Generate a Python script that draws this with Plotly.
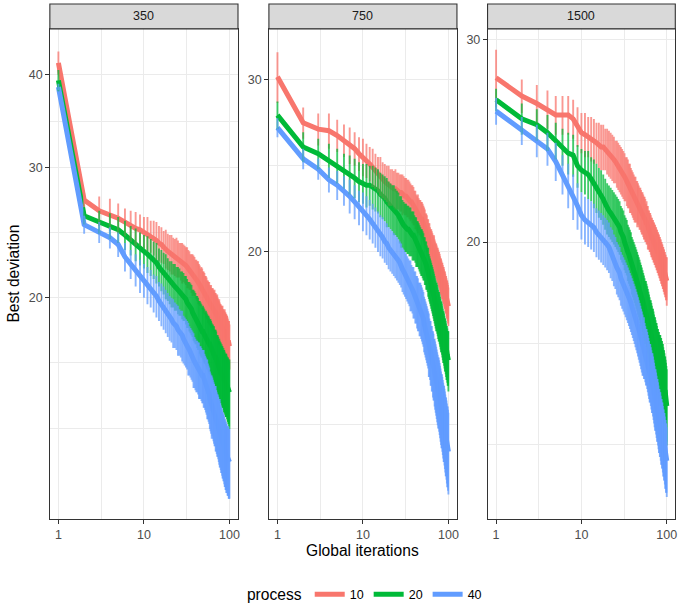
import plotly.graph_objects as go

iterations = list(range(1, 101))
facets = ["350", "750", "1500"]
processes = ["10", "20", "40"]
colors = {"10": "#F8766D", "20": "#00BA38", "40": "#619CFF"}
err_colors = {"10": "rgba(248,118,109,0.75)", "20": "rgba(0,186,56,0.75)", "40": "rgba(97,156,255,0.75)"}

# ---- facet 350 ----
dev_350_p10 = [41.5, 27.1, 26.2, 25.9, 25.6, 25.3, 25.0, 24.8, 24.7, 24.5,
               24.4, 24.2, 24.1, 23.9, 23.7, 23.6, 23.4, 23.3, 23.1, 23.0,
               22.9, 22.8, 22.7, 22.7, 22.6, 22.5, 22.4, 22.3, 22.3, 22.2,
               22.1, 22.0, 21.9, 21.8, 21.7, 21.6, 21.5, 21.5, 21.4, 21.3,
               21.2, 21.1, 21.0, 20.9, 20.8, 20.7, 20.7, 20.6, 20.5, 20.4,
               20.3, 20.2, 20.1, 20.0, 19.9, 19.8, 19.8, 19.7, 19.6, 19.5,
               19.5, 19.4, 19.4, 19.3, 19.3, 19.2, 19.2, 19.1, 19.1, 19.0,
               18.9, 18.9, 18.8, 18.7, 18.6, 18.6, 18.5, 18.4, 18.4, 18.3,
               18.3, 18.2, 18.2, 18.1, 18.1, 18.0, 18.0, 18.0, 17.9, 17.9,
               17.8, 17.8, 17.7, 17.6, 17.6, 17.5, 17.4, 17.4, 17.3, 17.2]
dev_350_p20 = [39.3, 25.8, 25.3, 25.0, 24.7, 24.3, 23.9, 23.6, 23.3, 23.1,
               22.9, 22.7, 22.5, 22.3, 22.0, 21.8, 21.6, 21.4, 21.2, 21.0,
               20.9, 20.8, 20.7, 20.6, 20.5, 20.4, 20.3, 20.2, 20.1, 20.0,
               19.9, 19.7, 19.6, 19.5, 19.4, 19.3, 19.1, 19.0, 18.9, 18.8,
               18.7, 18.6, 18.5, 18.4, 18.3, 18.2, 18.1, 18.0, 18.0, 17.9,
               17.8, 17.7, 17.7, 17.6, 17.5, 17.5, 17.4, 17.3, 17.3, 17.2,
               17.1, 17.0, 17.0, 16.9, 16.8, 16.8, 16.7, 16.6, 16.6, 16.5,
               16.4, 16.3, 16.3, 16.2, 16.1, 16.1, 16.0, 15.9, 15.9, 15.8,
               15.8, 15.7, 15.7, 15.6, 15.6, 15.5, 15.5, 15.4, 15.4, 15.3,
               15.3, 15.3, 15.2, 15.2, 15.1, 15.1, 15.0, 15.0, 14.9, 14.9]
dev_350_p40 = [38.5, 25.1, 24.5, 24.1, 23.6, 22.7, 22.2, 21.8, 21.4, 21.1,
               20.8, 20.6, 20.3, 20.1, 19.8, 19.6, 19.4, 19.2, 19.0, 18.8,
               18.7, 18.5, 18.4, 18.3, 18.1, 18.0, 17.9, 17.8, 17.6, 17.5,
               17.4, 17.3, 17.1, 17.0, 16.9, 16.8, 16.7, 16.5, 16.4, 16.3,
               16.2, 16.2, 16.1, 16.0, 15.9, 15.9, 15.8, 15.7, 15.7, 15.6,
               15.5, 15.4, 15.3, 15.2, 15.1, 15.0, 14.9, 14.8, 14.6, 14.5,
               14.4, 14.3, 14.3, 14.2, 14.1, 14.0, 13.9, 13.9, 13.8, 13.7,
               13.6, 13.5, 13.5, 13.4, 13.3, 13.2, 13.2, 13.1, 13.0, 12.9,
               12.9, 12.8, 12.7, 12.7, 12.6, 12.6, 12.5, 12.4, 12.4, 12.3,
               12.3, 12.2, 12.2, 12.2, 12.1, 12.1, 12.1, 12.0, 12.0, 12.0]
err_350_p10 = [1.5, 0.6, 1.2, 1.3, 1.2, 1.1, 1.2, 1.3, 1.2, 1.2,
               1.3, 1.2, 1.3, 1.4, 1.3, 1.3, 1.2, 1.4, 1.3, 1.3,
               1.4, 1.3, 1.3, 1.4, 1.3, 1.2, 1.3, 1.4, 1.3, 1.3,
               1.3, 1.4, 1.3, 1.3, 1.2, 1.3, 1.4, 1.3, 1.3, 1.2,
               1.3, 1.3, 1.4, 1.3, 1.3, 1.2, 1.3, 1.3, 1.2, 1.3,
               1.3, 1.2, 1.3, 1.3, 1.2, 1.3, 1.2, 1.3, 1.2, 1.2,
               1.3, 1.2, 1.2, 1.3, 1.2, 1.2, 1.3, 1.2, 1.2, 1.2,
               1.2, 1.3, 1.2, 1.2, 1.2, 1.3, 1.2, 1.2, 1.2, 1.2,
               1.2, 1.2, 1.3, 1.2, 1.2, 1.2, 1.2, 1.3, 1.2, 1.2,
               1.2, 1.2, 1.2, 1.3, 1.2, 1.2, 1.2, 1.2, 1.3, 1.2]
err_350_p20 = [1.3, 0.7, 0.9, 1.0, 1.0, 1.1, 1.1, 1.2, 1.2, 1.2,
               1.3, 1.3, 1.3, 1.4, 1.3, 1.4, 1.4, 1.5, 1.4, 1.4,
               1.5, 1.4, 1.5, 1.4, 1.5, 1.5, 1.4, 1.5, 1.5, 1.4,
               1.5, 1.5, 1.4, 1.5, 1.5, 1.5, 1.4, 1.5, 1.5, 1.5,
               1.4, 1.5, 1.5, 1.4, 1.5, 1.5, 1.5, 1.4, 1.5, 1.5,
               1.5, 1.4, 1.5, 1.5, 1.5, 1.4, 1.5, 1.5, 1.4, 1.5,
               1.5, 1.5, 1.4, 1.5, 1.5, 1.5, 1.4, 1.5, 1.5, 1.5,
               1.4, 1.5, 1.5, 1.5, 1.4, 1.5, 1.5, 1.5, 1.5, 1.4,
               1.5, 1.5, 1.5, 1.4, 1.5, 1.5, 1.5, 1.5, 1.4, 1.5,
               1.5, 1.5, 1.5, 1.4, 1.5, 1.5, 1.5, 1.5, 1.5, 1.6]
err_350_p40 = [0.4, 0.7, 0.8, 0.8, 0.9, 1.0, 1.0, 1.1, 1.1, 1.1,
               1.2, 1.2, 1.2, 1.3, 1.2, 1.3, 1.3, 1.3, 1.3, 1.3,
               1.3, 1.4, 1.3, 1.3, 1.4, 1.3, 1.3, 1.4, 1.3, 1.3,
               1.3, 1.3, 1.4, 1.3, 1.3, 1.3, 1.3, 1.4, 1.3, 1.3,
               1.3, 1.3, 1.3, 1.4, 1.3, 1.3, 1.3, 1.3, 1.3, 1.4,
               1.3, 1.3, 1.3, 1.3, 1.4, 1.3, 1.3, 1.3, 1.3, 1.3,
               1.3, 1.4, 1.3, 1.3, 1.3, 1.3, 1.3, 1.3, 1.4, 1.3,
               1.3, 1.3, 1.3, 1.3, 1.3, 1.3, 1.4, 1.3, 1.3, 1.3,
               1.3, 1.3, 1.3, 1.3, 1.3, 1.3, 1.3, 1.3, 1.3, 1.3,
               1.3, 1.3, 1.3, 1.2, 1.3, 1.3, 1.3, 1.3, 1.3, 1.3]

# ---- facet 750 ----
dev_750_p10 = [30.2, 27.1, 26.7, 26.6, 26.3, 26.0, 25.7, 25.5, 25.2, 25.0,
               24.8, 24.6, 24.4, 24.2, 24.0, 23.9, 23.7, 23.6, 23.5, 23.4,
               23.3, 23.3, 23.2, 23.2, 23.1, 23.1, 23.0, 23.0, 22.9, 22.9,
               22.8, 22.8, 22.7, 22.7, 22.6, 22.5, 22.5, 22.4, 22.3, 22.2,
               22.1, 22.0, 21.9, 21.9, 21.8, 21.7, 21.7, 21.6, 21.6, 21.5,
               21.4, 21.3, 21.2, 21.1, 21.0, 20.9, 20.8, 20.7, 20.6, 20.5,
               20.4, 20.3, 20.2, 20.2, 20.1, 20.0, 19.9, 19.9, 19.8, 19.7,
               19.6, 19.6, 19.5, 19.4, 19.4, 19.3, 19.2, 19.2, 19.1, 19.0,
               18.9, 18.9, 18.8, 18.7, 18.7, 18.6, 18.5, 18.5, 18.4, 18.3,
               18.3, 18.2, 18.1, 18.1, 18.0, 17.9, 17.9, 17.8, 17.7, 17.6]
dev_750_p20 = [27.6, 25.6, 25.2, 24.8, 24.5, 24.2, 24.0, 23.8, 23.6, 23.5,
               23.4, 23.4, 23.3, 23.2, 23.1, 22.9, 22.8, 22.7, 22.5, 22.4,
               22.3, 22.2, 22.1, 22.0, 21.9, 21.8, 21.6, 21.5, 21.4, 21.3,
               21.2, 21.2, 21.1, 21.1, 21.0, 21.0, 20.9, 20.8, 20.8, 20.7,
               20.6, 20.5, 20.4, 20.4, 20.3, 20.2, 20.1, 20.0, 20.0, 19.9,
               19.8, 19.7, 19.6, 19.5, 19.4, 19.3, 19.2, 19.1, 18.9, 18.8,
               18.7, 18.6, 18.5, 18.4, 18.3, 18.2, 18.1, 18.0, 17.9, 17.8,
               17.7, 17.6, 17.6, 17.5, 17.4, 17.3, 17.2, 17.2, 17.1, 17.0,
               16.9, 16.8, 16.8, 16.7, 16.6, 16.5, 16.4, 16.4, 16.3, 16.2,
               16.1, 16.1, 16.0, 15.9, 15.8, 15.8, 15.7, 15.6, 15.6, 15.5]
dev_750_p40 = [26.8, 24.9, 24.3, 23.7, 23.4, 23.1, 22.8, 22.5, 22.2, 22.0,
               21.8, 21.6, 21.4, 21.2, 21.0, 20.8, 20.7, 20.5, 20.4, 20.2,
               20.1, 20.0, 19.9, 19.8, 19.7, 19.6, 19.5, 19.4, 19.2, 19.1,
               19.0, 18.9, 18.8, 18.7, 18.6, 18.5, 18.4, 18.3, 18.2, 18.1,
               18.0, 17.9, 17.8, 17.7, 17.6, 17.5, 17.5, 17.4, 17.3, 17.2,
               17.1, 16.9, 16.8, 16.7, 16.6, 16.5, 16.4, 16.3, 16.1, 16.0,
               15.9, 15.8, 15.7, 15.6, 15.5, 15.4, 15.3, 15.2, 15.1, 15.0,
               14.9, 14.8, 14.7, 14.6, 14.5, 14.4, 14.4, 14.3, 14.2, 14.1,
               14.0, 13.9, 13.8, 13.8, 13.7, 13.6, 13.5, 13.4, 13.4, 13.3,
               13.2, 13.1, 13.0, 13.0, 12.9, 12.8, 12.7, 12.7, 12.6, 12.5]
err_750_p10 = [1.8, 1.0, 1.0, 1.1, 1.0, 1.0, 1.1, 1.0, 1.0, 1.1,
               1.0, 1.0, 1.1, 1.0, 1.0, 1.1, 1.0, 1.0, 1.0, 1.1,
               1.0, 1.0, 1.0, 1.1, 1.0, 1.0, 1.0, 1.0, 1.1, 1.0,
               1.0, 1.0, 1.0, 1.0, 1.0, 1.0, 0.9, 1.0, 1.0, 0.9,
               1.0, 0.9, 0.9, 1.0, 0.9, 0.9, 0.9, 0.9, 0.9, 0.9,
               0.9, 0.9, 0.9, 0.8, 0.9, 0.9, 0.8, 0.9, 0.8, 0.9,
               0.8, 0.8, 0.9, 0.8, 0.8, 0.8, 0.8, 0.9, 0.8, 0.8,
               0.8, 0.8, 0.8, 0.8, 0.8, 0.8, 0.8, 0.8, 0.8, 0.8,
               0.8, 0.8, 0.8, 0.8, 0.8, 0.8, 0.8, 0.8, 0.8, 0.8,
               0.8, 0.8, 0.8, 0.8, 0.8, 0.8, 0.8, 0.8, 0.8, 0.8]
err_750_p20 = [0.9, 0.9, 0.9, 1.0, 1.0, 1.0, 1.1, 1.1, 1.1, 1.1,
               1.2, 1.1, 1.2, 1.2, 1.2, 1.2, 1.2, 1.2, 1.3, 1.2,
               1.2, 1.2, 1.3, 1.2, 1.2, 1.2, 1.2, 1.3, 1.2, 1.2,
               1.2, 1.2, 1.2, 1.2, 1.2, 1.2, 1.1, 1.2, 1.2, 1.1,
               1.1, 1.2, 1.1, 1.1, 1.1, 1.1, 1.1, 1.1, 1.1, 1.1,
               1.1, 1.0, 1.1, 1.0, 1.1, 1.0, 1.0, 1.1, 1.0, 1.0,
               1.0, 1.0, 1.0, 1.0, 1.0, 1.0, 1.0, 1.0, 1.0, 1.0,
               1.0, 1.0, 1.0, 1.0, 1.0, 1.0, 1.0, 1.0, 1.0, 1.0,
               1.0, 1.0, 1.0, 1.0, 1.0, 1.0, 1.0, 1.0, 1.0, 1.0,
               1.0, 1.0, 1.0, 1.0, 1.0, 1.0, 1.0, 1.0, 1.0, 1.1]
err_750_p40 = [0.6, 0.6, 0.6, 0.7, 0.8, 0.8, 0.9, 0.9, 0.9, 1.0,
               1.0, 1.0, 1.0, 1.0, 1.0, 1.0, 1.0, 1.0, 1.0, 1.0,
               1.0, 1.0, 1.0, 1.0, 1.0, 1.0, 1.0, 1.0, 1.0, 1.0,
               1.0, 1.0, 1.0, 1.0, 1.0, 1.1, 1.0, 1.0, 1.1, 1.0,
               1.1, 1.0, 1.1, 1.1, 1.0, 1.1, 1.1, 1.1, 1.1, 1.1,
               1.1, 1.1, 1.1, 1.1, 1.1, 1.1, 1.1, 1.1, 1.2, 1.1,
               1.1, 1.2, 1.1, 1.2, 1.1, 1.2, 1.2, 1.1, 1.2, 1.2,
               1.2, 1.2, 1.2, 1.2, 1.2, 1.2, 1.2, 1.2, 1.2, 1.2,
               1.2, 1.2, 1.2, 1.2, 1.2, 1.2, 1.2, 1.2, 1.2, 1.2,
               1.2, 1.2, 1.2, 1.2, 1.2, 1.2, 1.2, 1.2, 1.2, 1.2]

# ---- facet 1500 ----
dev_1500_p10 = [27.8, 26.8, 26.4, 26.1, 25.8, 25.8, 25.8, 25.6, 25.2, 24.9,
                24.8, 24.7, 24.6, 24.5, 24.4, 24.3, 24.2, 24.2, 24.1, 24.0,
                23.9, 23.8, 23.7, 23.6, 23.5, 23.4, 23.3, 23.2, 23.1, 23.0,
                22.9, 22.8, 22.7, 22.6, 22.5, 22.4, 22.3, 22.2, 22.1, 22.0,
                21.9, 21.8, 21.8, 21.7, 21.6, 21.6, 21.5, 21.4, 21.4, 21.3,
                21.2, 21.2, 21.1, 21.0, 21.0, 20.9, 20.8, 20.8, 20.7, 20.6,
                20.5, 20.5, 20.4, 20.4, 20.3, 20.2, 20.2, 20.1, 20.1, 20.0,
                20.0, 19.9, 19.9, 19.8, 19.8, 19.7, 19.7, 19.6, 19.6, 19.5,
                19.5, 19.4, 19.4, 19.3, 19.3, 19.2, 19.2, 19.1, 19.1, 19.0,
                19.0, 18.9, 18.9, 18.8, 18.8, 18.7, 18.7, 18.6, 18.6, 18.5]
dev_1500_p20 = [26.6, 25.6, 25.3, 24.9, 24.5, 24.2, 23.9, 23.8, 23.3, 23.1,
                23.0, 22.9, 22.7, 22.5, 22.3, 22.1, 22.0, 21.8, 21.6, 21.4,
                21.3, 21.2, 21.1, 21.0, 20.9, 20.8, 20.7, 20.6, 20.4, 20.3,
                20.2, 20.0, 19.9, 19.8, 19.6, 19.5, 19.4, 19.3, 19.1, 19.0,
                18.9, 18.8, 18.7, 18.6, 18.5, 18.4, 18.3, 18.2, 18.1, 18.0,
                17.9, 17.8, 17.7, 17.6, 17.5, 17.4, 17.4, 17.3, 17.2, 17.1,
                17.0, 16.9, 16.8, 16.7, 16.7, 16.6, 16.5, 16.4, 16.4, 16.3,
                16.2, 16.1, 16.1, 16.0, 15.9, 15.9, 15.8, 15.7, 15.7, 15.6,
                15.6, 15.5, 15.5, 15.5, 15.4, 15.4, 15.3, 15.3, 15.2, 15.2,
                15.1, 15.0, 15.0, 14.9, 14.8, 14.8, 14.7, 14.6, 14.5, 14.4]
dev_1500_p40 = [26.0, 25.0, 24.5, 24.1, 23.5, 22.9, 22.4, 21.9, 21.5, 21.1,
                20.9, 20.8, 20.7, 20.6, 20.4, 20.3, 20.2, 20.1, 20.0, 19.9,
                19.8, 19.6, 19.5, 19.3, 19.2, 19.0, 18.9, 18.8, 18.6, 18.5,
                18.4, 18.3, 18.2, 18.1, 18.0, 17.9, 17.8, 17.7, 17.6, 17.5,
                17.4, 17.3, 17.2, 17.1, 17.0, 16.9, 16.8, 16.7, 16.6, 16.5,
                16.4, 16.3, 16.2, 16.2, 16.1, 16.0, 15.9, 15.9, 15.8, 15.7,
                15.6, 15.5, 15.4, 15.4, 15.3, 15.2, 15.1, 15.1, 15.0, 14.9,
                14.8, 14.7, 14.6, 14.6, 14.5, 14.4, 14.3, 14.3, 14.2, 14.1,
                14.0, 14.0, 13.9, 13.9, 13.8, 13.7, 13.7, 13.6, 13.6, 13.5,
                13.4, 13.4, 13.3, 13.3, 13.2, 13.1, 13.1, 13.0, 13.0, 12.9]
err_1500_p10 = [1.6, 0.9, 1.0, 1.0, 1.0, 1.0, 1.0, 1.0, 1.0, 1.0,
                1.1, 1.0, 1.1, 1.1, 1.0, 1.1, 1.1, 1.1, 1.0, 1.1,
                1.1, 1.1, 1.1, 1.1, 1.0, 1.1, 1.1, 1.1, 1.1, 1.1,
                1.1, 1.1, 1.0, 1.1, 1.1, 1.0, 1.1, 1.0, 1.0, 1.0,
                1.0, 1.0, 1.0, 0.9, 1.0, 0.9, 0.9, 0.9, 0.9, 0.9,
                0.9, 0.9, 0.9, 0.9, 0.9, 0.9, 0.8, 0.9, 0.8, 0.9,
                0.8, 0.8, 0.8, 0.8, 0.8, 0.8, 0.8, 0.8, 0.8, 0.8,
                0.8, 0.8, 0.8, 0.8, 0.8, 0.8, 0.8, 0.8, 0.8, 0.8,
                0.8, 0.8, 0.8, 0.8, 0.8, 0.8, 0.8, 0.8, 0.8, 0.8,
                0.8, 0.8, 0.8, 0.8, 0.8, 0.8, 0.8, 0.8, 0.8, 0.9]
err_1500_p20 = [0.6, 0.8, 0.8, 0.9, 0.9, 0.9, 1.0, 1.0, 1.0, 1.0,
                1.0, 1.1, 1.0, 1.1, 1.1, 1.1, 1.1, 1.1, 1.1, 1.1,
                1.1, 1.1, 1.1, 1.1, 1.1, 1.1, 1.1, 1.1, 1.1, 1.1,
                1.1, 1.1, 1.1, 1.1, 1.1, 1.1, 1.1, 1.1, 1.1, 1.1,
                1.1, 1.1, 1.1, 1.1, 1.1, 1.1, 1.1, 1.1, 1.1, 1.1,
                1.1, 1.1, 1.1, 1.1, 1.1, 1.1, 1.1, 1.1, 1.1, 1.1,
                1.1, 1.1, 1.1, 1.1, 1.1, 1.1, 1.1, 1.1, 1.1, 1.1,
                1.1, 1.1, 1.1, 1.1, 1.1, 1.1, 1.1, 1.1, 1.1, 1.1,
                1.1, 1.1, 1.1, 1.1, 1.1, 1.1, 1.1, 1.1, 1.1, 1.1,
                1.1, 1.1, 1.1, 1.1, 1.1, 1.1, 1.1, 1.1, 1.1, 1.1]
err_1500_p40 = [0.7, 0.7, 0.8, 0.8, 0.9, 0.9, 1.0, 1.0, 1.0, 1.0,
                1.0, 1.0, 1.0, 1.0, 1.0, 1.0, 1.0, 1.0, 1.0, 1.0,
                1.0, 1.0, 1.0, 1.0, 1.0, 1.0, 1.0, 1.0, 1.0, 1.0,
                1.0, 1.0, 1.0, 1.0, 1.0, 1.0, 1.0, 1.0, 1.0, 1.0,
                1.0, 1.0, 1.0, 1.0, 1.0, 1.0, 1.0, 1.0, 1.0, 1.0,
                1.0, 1.0, 0.9, 1.0, 0.9, 0.9, 0.9, 0.9, 0.9, 0.9,
                0.9, 0.9, 0.9, 0.9, 0.9, 0.9, 0.9, 0.9, 0.9, 0.9,
                0.9, 0.9, 0.9, 0.9, 0.9, 0.9, 0.9, 0.9, 0.9, 0.9,
                0.9, 0.9, 0.9, 0.9, 0.9, 0.9, 0.9, 0.9, 0.9, 0.9,
                0.9, 0.9, 0.9, 0.9, 0.9, 0.9, 0.9, 0.9, 0.9, 0.9]

x_ticks = [1, 10, 100]
x_minor = [3.162, 31.62]
y_ticks = {"350": [20, 30, 40], "750": [20, 30], "1500": [20, 30]}
y_minor = {"350": [13.33, 16.33, 24.49, 34.64], "750": [13.33, 16.33, 24.49], "1500": [13.33, 16.33, 24.49]}
y_ranges = {"350": [1.002, 1.664], "750": [1.028, 1.529], "1500": [1.0598, 1.4866]}

series = {
    "350": {"10": (dev_350_p10, err_350_p10), "20": (dev_350_p20, err_350_p20), "40": (dev_350_p40, err_350_p40)},
    "750": {"10": (dev_750_p10, err_750_p10), "20": (dev_750_p20, err_750_p20), "40": (dev_750_p40, err_750_p40)},
    "1500": {"10": (dev_1500_p10, err_1500_p10), "20": (dev_1500_p20, err_1500_p20), "40": (dev_1500_p40, err_1500_p40)},
}

W, H = 678, 611
x_domains = [[50 / W, 238.7 / W], [269.7 / W, 458.3 / W], [489 / W, 677.3 / W]]
y_domain = [1 - 521.7 / H, 1 - 29 / H]
strip = [1 - 29 / H, 1 - 4 / H]

FONT = "Liberation Sans, Arial, sans-serif"
fig = go.Figure()

for i, fac in enumerate(facets):
    ax = "" if i == 0 else str(i + 1)
    for p in processes:
        vals, errs = series[fac][p]
        fig.add_trace(go.Scatter(
            x=iterations, y=vals, mode="lines", name=p,
            line=dict(color=colors[p], width=5),
            legendgroup=p, showlegend=(i == 0),
            xaxis="x" + ax, yaxis="y" + ax, hoverinfo="skip"))
    for p in processes:
        vals, errs = series[fac][p]
        fig.add_trace(go.Scatter(
            x=iterations, y=vals, mode="markers",
            marker=dict(color="rgba(0,0,0,0)", size=1),
            error_y=dict(type="data", array=errs, symmetric=True,
                         color=err_colors[p], thickness=1.9, width=0),
            legendgroup=p, showlegend=False,
            xaxis="x" + ax, yaxis="y" + ax, hoverinfo="skip"))

    common = dict(showline=True, mirror=True, linecolor="#333333", linewidth=1.1,
                  ticks="outside", ticklen=3.7, tickwidth=1.1, tickcolor="#333333",
                  tickfont=dict(size=12.5, color="#4D4D4D", family=FONT),
                  showgrid=True, gridcolor="#EBEBEB", gridwidth=1.1, zeroline=False)
    fig.update_layout(**{
        "xaxis" + ax: dict(type="log", range=[-0.1, 2.1], domain=x_domains[i],
                           anchor="y" + ax, tickvals=x_ticks, ticktext=[str(t) for t in x_ticks],
                           minor=dict(tickmode="array", tickvals=x_minor, showgrid=True,
                                      gridcolor="#EBEBEB", gridwidth=0.55),
                           **common),
        "yaxis" + ax: dict(type="log", range=y_ranges[fac], domain=y_domain,
                           anchor="x" + ax, tickvals=y_ticks[fac], ticktext=[str(t) for t in y_ticks[fac]],
                           minor=dict(tickmode="array", tickvals=y_minor[fac], showgrid=True,
                                      gridcolor="#EBEBEB", gridwidth=0.55),
                           **common),
    })
    fig.add_shape(type="rect", xref="paper", yref="paper",
                  x0=x_domains[i][0], x1=x_domains[i][1], y0=strip[0], y1=strip[1],
                  fillcolor="#D9D9D9", line=dict(color="#333333", width=1.1), layer="above")
    fig.add_annotation(text=fac, xref="paper", yref="paper",
                       x=(x_domains[i][0] + x_domains[i][1]) / 2, y=(strip[0] + strip[1]) / 2,
                       showarrow=False, font=dict(size=12.5, color="#1A1A1A", family=FONT),
                       xanchor="center", yanchor="middle")

fig.add_annotation(text="Best deviation", xref="paper", yref="paper", x=14 / W, y=1 - 275 / H,
                   textangle=-90, showarrow=False, font=dict(size=15.6, color="black", family=FONT),
                   xanchor="center", yanchor="middle")
fig.add_annotation(text="Global iterations", xref="paper", yref="paper", x=364 / W, y=1 - 553 / H,
                   showarrow=False, font=dict(size=15.6, color="black", family=FONT),
                   xanchor="center", yanchor="middle")

fig.update_layout(
    width=W, height=H, margin=dict(l=0, r=0, t=0, b=0),
    paper_bgcolor="white", plot_bgcolor="white",
    font=dict(family=FONT),
    showlegend=True,
    legend=dict(orientation="h", x=367 / W, xanchor="center", y=1 - 598 / H, yanchor="middle",
                title=dict(text="process", side="left", font=dict(size=15.6, color="black", family=FONT)),
                font=dict(size=12.5, color="black", family=FONT),
                itemwidth=30, bgcolor="rgba(0,0,0,0)"),
)

fig.write_html("out.html", config={"displayModeBar": False},
               post_script="document.body.style.margin='0px';")
